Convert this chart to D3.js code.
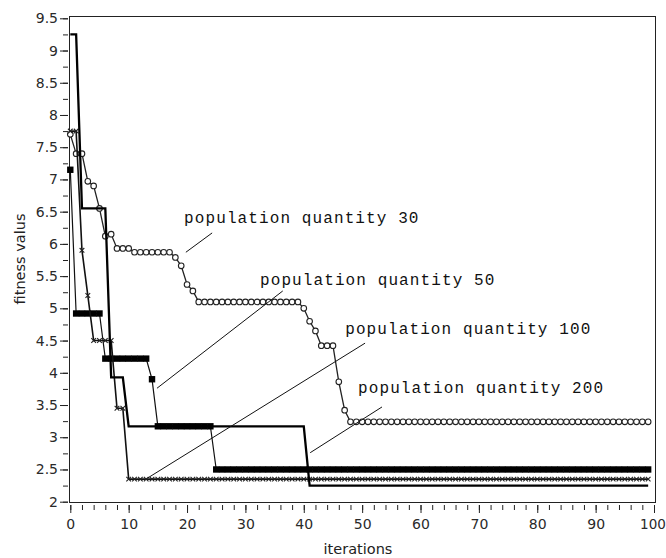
<!DOCTYPE html>
<html>
<head>
<meta charset="utf-8">
<script src="https://cdn.jsdelivr.net/npm/d3@7"></script>
<style>
body{margin:0;background:#fff}
svg{display:block}
</style>
</head>
<body>
<div id="chart"></div>
<script>

// fitness per iteration (0..99)
const pop30 = [7.7, 7.4, 7.4, 6.97, 6.9, 6.55, 6.12, 6.15, 5.93, 5.93,
  5.93, 5.87, 5.87, 5.87, 5.87, 5.87, 5.87, 5.87, 5.79, 5.66,
  5.37, 5.27, 5.1, 5.1, 5.1, 5.1, 5.1, 5.1, 5.1, 5.1,
  5.1, 5.1, 5.1, 5.1, 5.1, 5.1, 5.1, 5.1, 5.1, 5.1,
  5.0, 4.8, 4.65, 4.42, 4.42, 4.42, 3.86, 3.42, 3.24, 3.24,
  3.24, 3.24, 3.24, 3.24, 3.24, 3.24, 3.24, 3.24, 3.24, 3.24,
  3.24, 3.24, 3.24, 3.24, 3.24, 3.24, 3.24, 3.24, 3.24, 3.24,
  3.24, 3.24, 3.24, 3.24, 3.24, 3.24, 3.24, 3.24, 3.24, 3.24,
  3.24, 3.24, 3.24, 3.24, 3.24, 3.24, 3.24, 3.24, 3.24, 3.24,
  3.24, 3.24, 3.24, 3.24, 3.24, 3.24, 3.24, 3.24, 3.24, 3.24]

const pop50 = [7.15, 4.92, 4.92, 4.92, 4.92, 4.92, 4.22, 4.22, 4.22, 4.22,
  4.22, 4.22, 4.22, 4.22, 3.9, 3.17, 3.17, 3.17, 3.17, 3.17,
  3.17, 3.17, 3.17, 3.17, 3.17, 2.5, 2.5, 2.5, 2.5, 2.5,
  2.5, 2.5, 2.5, 2.5, 2.5, 2.5, 2.5, 2.5, 2.5, 2.5,
  2.5, 2.5, 2.5, 2.5, 2.5, 2.5, 2.5, 2.5, 2.5, 2.5,
  2.5, 2.5, 2.5, 2.5, 2.5, 2.5, 2.5, 2.5, 2.5, 2.5,
  2.5, 2.5, 2.5, 2.5, 2.5, 2.5, 2.5, 2.5, 2.5, 2.5,
  2.5, 2.5, 2.5, 2.5, 2.5, 2.5, 2.5, 2.5, 2.5, 2.5,
  2.5, 2.5, 2.5, 2.5, 2.5, 2.5, 2.5, 2.5, 2.5, 2.5,
  2.5, 2.5, 2.5, 2.5, 2.5, 2.5, 2.5, 2.5, 2.5, 2.5]

const pop100 = [7.75, 7.75, 5.9, 5.2, 4.5, 4.5, 4.5, 4.5, 3.45, 3.45,
  2.35, 2.35, 2.35, 2.35, 2.35, 2.35, 2.35, 2.35, 2.35, 2.35,
  2.35, 2.35, 2.35, 2.35, 2.35, 2.35, 2.35, 2.35, 2.35, 2.35,
  2.35, 2.35, 2.35, 2.35, 2.35, 2.35, 2.35, 2.35, 2.35, 2.35,
  2.35, 2.35, 2.35, 2.35, 2.35, 2.35, 2.35, 2.35, 2.35, 2.35,
  2.35, 2.35, 2.35, 2.35, 2.35, 2.35, 2.35, 2.35, 2.35, 2.35,
  2.35, 2.35, 2.35, 2.35, 2.35, 2.35, 2.35, 2.35, 2.35, 2.35,
  2.35, 2.35, 2.35, 2.35, 2.35, 2.35, 2.35, 2.35, 2.35, 2.35,
  2.35, 2.35, 2.35, 2.35, 2.35, 2.35, 2.35, 2.35, 2.35, 2.35,
  2.35, 2.35, 2.35, 2.35, 2.35, 2.35, 2.35, 2.35, 2.35, 2.35]

const pop200 = [9.25, 9.25, 6.55, 6.55, 6.55, 6.55, 6.55, 3.93, 3.93, 3.93,
  3.17, 3.17, 3.17, 3.17, 3.17, 3.17, 3.17, 3.17, 3.17, 3.17,
  3.17, 3.17, 3.17, 3.17, 3.17, 3.17, 3.17, 3.17, 3.17, 3.17,
  3.17, 3.17, 3.17, 3.17, 3.17, 3.17, 3.17, 3.17, 3.17, 3.17,
  3.17, 2.25, 2.25, 2.25, 2.25, 2.25, 2.25, 2.25, 2.25, 2.25,
  2.25, 2.25, 2.25, 2.25, 2.25, 2.25, 2.25, 2.25, 2.25, 2.25,
  2.25, 2.25, 2.25, 2.25, 2.25, 2.25, 2.25, 2.25, 2.25, 2.25,
  2.25, 2.25, 2.25, 2.25, 2.25, 2.25, 2.25, 2.25, 2.25, 2.25,
  2.25, 2.25, 2.25, 2.25, 2.25, 2.25, 2.25, 2.25, 2.25, 2.25,
  2.25, 2.25, 2.25, 2.25, 2.25, 2.25, 2.25, 2.25, 2.25, 2.25]

const xTicks = [0, 10, 20, 30, 40, 50, 60, 70, 80, 90, 100]
const yTicks = [2, 2.5, 3, 3.5, 4, 4.5, 5, 5.5, 6, 6.5, 7, 7.5, 8, 8.5, 9, 9.5]

// label text, where it sits and where its leader points (data units)
const labels = [
  {text: 'population quantity 30', tx: 19.5, ty: 6.32, from: [24.3, 6.17], to: [19.8, 5.87]},
  {text: 'population quantity 50', tx: 32.5, ty: 5.36, from: [36.4, 5.27], to: [14.85, 3.76]},
  {text: 'population quantity 100', tx: 47.1, ty: 4.6, from: [50.5, 4.46], to: [13.3, 2.37]},
  {text: 'population quantity 200', tx: 49.3, ty: 3.69, from: [53.4, 3.47], to: [41.1, 2.76]}
]

const width = 666
const height = 558

const x = d3.scaleLinear().domain([0, 100]).range([70.3, 654])
const y = d3.scaleLinear().domain([2, 9.5]).range([501.7, 18.3])

const svg = d3.select('#chart')
.append('svg')
.attr('width', width)
.attr('height', height)

const tickFont = '14px "DejaVu Sans", sans-serif'

// frame
svg.append('rect')
.attr('x', 69.5)
.attr('y', 16.5)
.attr('width', 586)
.attr('height', 486)
.attr('fill', 'none')
.attr('stroke', '#222')
.attr('stroke-width', 1)

// y axis, major + minor
const yMinor = svg.append('g')
.attr('transform', 'translate(68,0)')
.call(d3.axisLeft(y).tickValues(d3.range(2, 9.51, 0.25)).tickSize(5).tickFormat(''))

const yAxis = svg.append('g')
.attr('transform', 'translate(68,0)')
.call(d3.axisLeft(y).tickValues(yTicks).tickSize(8).tickPadding(2).tickFormat(d => String(d)))

// x axis, major + minor
const xMinor = svg.append('g')
.attr('transform', 'translate(0,505)')
.call(d3.axisBottom(x).tickValues(d3.range(0, 101, 2)).tickSize(5).tickFormat(''))

const xAxis = svg.append('g')
.attr('transform', 'translate(0,505)')
.call(d3.axisBottom(x).tickValues(xTicks).tickSize(8).tickPadding(6).tickFormat(d => String(d)))

// last label sits against the right edge, as in the original
xAxis.selectAll('.tick text')
.filter(d => d === 100)
.attr('dx', -1.5)

svg.selectAll('.domain').remove()

svg.selectAll('.tick line')
.attr('stroke', '#222')

svg.selectAll('.tick text')
.style('font', tickFont)
.attr('fill', '#2a2a2a')

xAxis.selectAll('.tick text')
.filter(d => d === 100)
.style('font-size', '13.5px')

// axis titles
svg.append('text')
.attr('transform', `translate(25,${259}) rotate(-90)`)
.attr('text-anchor', 'middle')
.style('font', '14.5px "DejaVu Sans", sans-serif')
.attr('fill', '#222')
.text('fitness valus')

svg.append('text')
.attr('x', 358)
.attr('y', 554)
.attr('text-anchor', 'middle')
.style('font', '14.5px "DejaVu Sans", sans-serif')
.attr('fill', '#222')
.text('iterations')

const line = d3.line()
.x((d, i) => x(i))
.y(d => y(d))

const series = svg.append('g')

// population 30: thin line, open circles
series.append('path')
.datum(pop30)
.attr('d', line)
.attr('fill', 'none')
.attr('stroke', '#222')
.attr('stroke-width', 1.3)

series.append('g')
.selectAll('circle')
.data(pop30)
.enter()
.append('circle')
.attr('cx', (d, i) => x(i))
.attr('cy', d => y(d))
.attr('r', 2.8)
.attr('fill', '#fff')
.attr('stroke', '#222')
.attr('stroke-width', 1.1)

// population 50: thin line, filled squares
series.append('path')
.datum(pop50)
.attr('d', line)
.attr('fill', 'none')
.attr('stroke', '#111')
.attr('stroke-width', 1.2)

series.append('g')
.selectAll('rect')
.data(pop50)
.enter()
.append('rect')
.attr('x', (d, i) => x(i) - 3.2)
.attr('y', d => y(d) - 3.2)
.attr('width', 6.4)
.attr('height', 6.4)
.attr('fill', '#000')

// population 100: line with small crosses
series.append('path')
.datum(pop100)
.attr('d', line)
.attr('fill', 'none')
.attr('stroke', '#111')
.attr('stroke-width', 1.6)

const cross = d3.symbol().type(d3.symbolX).size(16)

series.append('g')
.selectAll('path')
.data(pop100)
.enter()
.append('path')
.attr('d', cross)
.attr('transform', (d, i) => `translate(${x(i)},${y(d)})`)
.attr('fill', 'none')
.attr('stroke', '#222')
.attr('stroke-width', 1.1)

// population 200: plain heavier line
series.append('path')
.datum(pop200)
.attr('d', line)
.attr('fill', 'none')
.attr('stroke', '#000')
.attr('stroke-width', 2.3)

// labels with leader lines
const notes = svg.append('g')

notes.selectAll('line')
.data(labels)
.enter()
.append('line')
.attr('x1', d => x(d.from[0]))
.attr('y1', d => y(d.from[1]))
.attr('x2', d => x(d.to[0]))
.attr('y2', d => y(d.to[1]))
.attr('stroke', '#111')
.attr('stroke-width', 1)

notes.selectAll('text')
.data(labels)
.enter()
.append('text')
.attr('x', d => x(d.tx))
.attr('y', d => y(d.ty))
.style('font', '16px "Liberation Mono", monospace')
.style('letter-spacing', '1.1px')
.attr('fill', '#111')
.text(d => d.text)

</script>
</body>
</html>
